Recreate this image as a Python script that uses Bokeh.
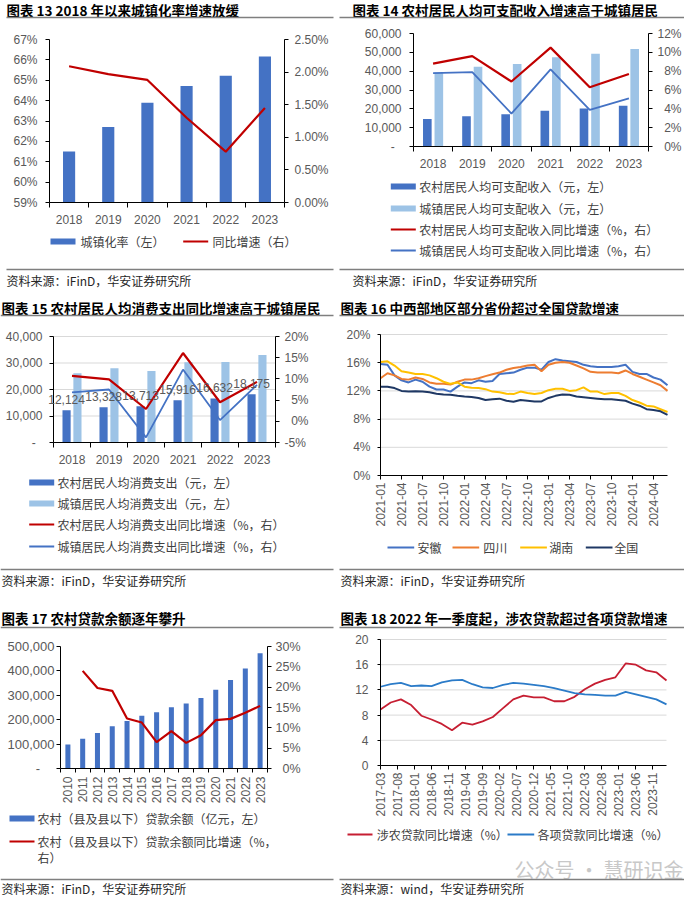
import math
from bokeh.plotting import figure
from bokeh.models import (Range1d, LinearAxis, FixedTicker, Label, BoxAnnotation,
                          LabelSet, ColumnDataSource)
from bokeh.layouts import column, row
from bokeh.core.properties import value
from bokeh.embed import file_html
from bokeh.resources import INLINE

CJK = "Noto Sans CJK SC"
LAT = "Liberation Sans"
FS = "\u2007"  # figure space, to right-align right-axis labels

C_BAR = "#4472C4"
C_LIGHT = "#9DC3E6"
C_RED = "#C00000"
C_ORANGE = "#ED7D31"
C_YELLOW = "#FFC000"
C_NAVY = "#1F3864"
C_RED18 = "#C61E32"
C_BLUE18 = "#2B7BC8"
C_RULE = "#7F7F7F"

# ---------------- DATA ----------------
# 图表13
years_13 = ["2018", "2019", "2020", "2021", "2022", "2023"]
urbanization_rate = [61.50, 62.71, 63.89, 64.72, 65.22, 66.16]
urbanization_yoy = [2.09, 1.97, 1.88, 1.30, 0.78, 1.45]
ticks_13_left = [59, 60, 61, 62, 63, 64, 65, 66, 67]
labels_13_left = ["59%", "60%", "61%", "62%", "63%", "64%", "65%", "66%", "67%"]
ticks_13_right = [0.0, 0.5, 1.0, 1.5, 2.0, 2.5]
labels_13_right = ["0.00%", "0.50%", "1.00%", "1.50%", "2.00%", "2.50%"]

# 图表14
years_14 = ["2018", "2019", "2020", "2021", "2022", "2023"]
rural_income = [14617, 16021, 17131, 18931, 20133, 21691]
urban_income = [39251, 42359, 43834, 47412, 49283, 51821]
rural_income_yoy = [8.8, 9.6, 6.9, 10.5, 6.3, 7.7]
urban_income_yoy = [7.8, 7.9, 3.5, 8.2, 3.9, 5.1]
ticks_14_left = [0, 10000, 20000, 30000, 40000, 50000, 60000]
labels_14_left = ["-" + FS, "10,000", "20,000", "30,000", "40,000", "50,000", "60,000"]
ticks_14_right = [0, 2, 4, 6, 8, 10, 12]
labels_14_right = [FS + "0%", FS + "2%", FS + "4%", FS + "6%", FS + "8%", "10%", "12%"]

# 图表15
years_15 = ["2018", "2019", "2020", "2021", "2022", "2023"]
rural_cons = [12124, 13328, 13713, 15916, 16632, 18175]
urban_cons = [26112, 28063, 27007, 30307, 30391, 32994]
rural_cons_yoy = [10.7, 9.9, 2.9, 16.1, 4.5, 9.3]
urban_cons_yoy = [6.8, 7.5, -3.8, 12.2, 0.3, 8.6]
rural_cons_labels = ["12,124", "13,328", "13,713", "15,916", "16,632", "18,175"]
ticks_15_left = [0, 10000, 20000, 30000, 40000]
labels_15_left = ["-" + FS, "10,000", "20,000", "30,000", "40,000"]
ticks_15_right = [-5, 0, 5, 10, 15, 20]
labels_15_right = ["-5%", FS + "0%", FS + "5%", "10%", "15%", "20%"]

# 图表16
months_16 = ["2021-01", "2021-02", "2021-03", "2021-04", "2021-05", "2021-06",
             "2021-07", "2021-08", "2021-09", "2021-10", "2021-11", "2021-12",
             "2022-01", "2022-02", "2022-03", "2022-04", "2022-05", "2022-06",
             "2022-07", "2022-08", "2022-09", "2022-10", "2022-11", "2022-12",
             "2023-01", "2023-02", "2023-03", "2023-04", "2023-05", "2023-06",
             "2023-07", "2023-08", "2023-09", "2023-10", "2023-11", "2023-12",
             "2024-01", "2024-02", "2024-03", "2024-04", "2024-05", "2024-06"]
anhui = [15.8, 15.7, 14.2, 13.5, 13.2, 13.6, 13.3, 12.6, 12.2, 12.2, 11.9, 12.6,
         13.2, 13.1, 13.5, 13.3, 13.4, 14.4, 14.5, 14.6, 15.0, 15.3, 15.3, 15.0,
         16.1, 16.5, 16.3, 16.2, 16.1, 15.7, 15.5, 15.4, 15.4, 15.4, 15.5, 15.7,
         14.7, 14.4, 14.4, 13.9, 13.6, 12.8]
sichuan = [13.8, 14.5, 14.2, 13.7, 13.6, 13.9, 13.7, 13.2, 13.0, 13.0, 12.9, 13.3,
           13.6, 13.6, 13.8, 14.1, 14.35, 14.6, 15.0, 15.25, 15.4, 15.6, 15.7, 14.8,
           15.7, 16.0, 16.1, 16.0, 15.6, 15.2, 14.7, 14.6, 14.6, 14.6, 14.5, 14.9,
           14.4, 14.0, 13.6, 13.2, 12.8, 12.0]
hunan = [16.1, 16.2, 15.6, 14.8, 14.6, 14.4, 14.4, 14.2, 13.8, 13.3, 13.0, 13.2,
         12.6, 12.45, 12.4, 12.25, 11.9, 11.8, 11.6, 11.55, 11.9, 11.7, 11.55, 11.7,
         12.1, 12.3, 12.3, 12.0, 12.1, 12.5, 11.9, 11.9, 11.55, 11.7, 11.7, 11.3,
         10.7, 10.35, 9.9, 9.8, 9.4, 9.0]
national = [12.6, 12.6, 12.4, 12.0, 11.9, 11.95, 11.9, 11.8, 11.6, 11.5, 11.45, 11.3,
            11.2, 11.15, 11.0, 10.7, 10.8, 10.9, 10.6, 10.45, 10.7, 10.6, 10.5, 10.5,
            11.0, 11.3, 11.5, 11.45, 11.2, 11.1, 11.0, 10.9, 10.8, 10.8, 10.7, 10.6,
            10.2, 9.9, 9.4, 9.3, 9.1, 8.6]
ticks_16_y = [0, 4, 8, 12, 16, 20]
labels_16_y = ["0%", "4%", "8%", "12%", "16%", "20%"]
ticks_16_x = [0, 3, 6, 9, 12, 15, 18, 21, 24, 27, 30, 33, 36, 39]
labels_16_x = ["2021-01", "2021-04", "2021-07", "2021-10", "2022-01", "2022-04", "2022-07",
               "2022-10", "2023-01", "2023-04", "2023-07", "2023-10", "2024-01", "2024-04"]

# 图表17
years_17 = ["2010", "2011", "2012", "2013", "2014", "2015", "2016",
            "2017", "2018", "2019", "2020", "2021", "2022", "2023"]
rural_loans = [98000, 121500, 145400, 172900, 194400, 216100, 230100,
               251400, 266400, 288800, 322700, 362300, 409600, 472000]
rural_loans_yoy = [float("nan"), 24.0, 19.8, 19.1, 12.3, 11.3, 6.5,
                   9.2, 6.3, 8.2, 11.9, 12.2, 13.7, 15.4]
ticks_17_left = [0, 100000, 200000, 300000, 400000, 500000]
labels_17_left = ["-" + FS + FS, "100,000", "200,000", "300,000", "400,000", "500,000"]
ticks_17_right = [0, 5, 10, 15, 20, 25, 30]
labels_17_right = [FS + "0%", FS + "5%", "10%", "15%", "20%", "25%", "30%"]

# 图表18
quarters_18 = ["2017-03", "2017-06", "2017-09", "2017-12", "2018-03", "2018-06", "2018-09",
               "2018-12", "2019-03", "2019-06", "2019-09", "2019-12", "2020-03", "2020-06",
               "2020-09", "2020-12", "2021-03", "2021-06", "2021-09", "2021-12", "2022-03",
               "2022-06", "2022-09", "2022-12", "2023-03", "2023-06", "2023-09", "2023-12",
               "2024-03"]
agri_loan_yoy = [8.9, 10.0, 10.5, 9.6, 7.9, 7.3, 6.6, 5.6, 6.8, 6.5, 7.0, 7.7, 9.1, 10.5,
                 11.1, 10.8, 10.8, 10.2, 10.2, 10.9, 12.1, 13.0, 13.6, 14.0, 16.2, 16.0,
                 15.1, 14.8, 13.5]
total_loan_yoy = [12.5, 12.9, 13.1, 12.6, 12.7, 12.6, 13.2, 13.5, 13.6, 12.9, 12.4, 12.3,
                  12.8, 13.1, 13.0, 12.8, 12.6, 12.3, 11.9, 11.5, 11.3, 11.2, 11.1, 11.1,
                  11.7, 11.3, 10.9, 10.5, 9.7]
ticks_18_y = [0, 4, 8, 12, 16, 20]
labels_18_y = ["0", "4", "8", "12", "16", "20"]
labels_18_x = ["2017-03", "2017-08", "2018-01", "2018-06", "2018-11", "2019-04", "2019-09",
               "2020-02", "2020-07", "2020-12", "2021-05", "2021-10", "2022-03", "2022-08",
               "2023-01", "2023-06", "2023-11"]


def month_index(s, base=(2017, 3)):
    y, m = s.split("-")
    return (int(y) - base[0]) * 12 + int(m) - base[1]


# ---------------- HELPERS ----------------
# Every figure's frame fills its whole canvas; the plot area is placed inside it
# by choosing the ranges, and the axes are drawn at fixed locations.
def make_fig(W, H, pl, pr, pt, pb, xa, xb, ya, yb):
    sx = (pr - pl) / (xb - xa)
    sy = (pb - pt) / (yb - ya)
    xr = Range1d(xa - pl / sx, xb + (W - pr) / sx)
    yr = Range1d(ya - (H - pb) / sy, yb + pt / sy)
    p = figure(width=W, height=H, x_range=xr, y_range=yr, title=None,
               output_backend="svg", toolbar_location=None, min_border=0)
    p.min_border_left = 0
    p.min_border_right = 0
    p.min_border_top = 0
    p.min_border_bottom = 0
    p.outline_line_color = None
    p.xgrid.visible = False
    p.ygrid.visible = False
    p.background_fill_color = "white"
    p.border_fill_color = "white"
    p._g = dict(W=W, H=H, pt=pt, pb=pb, xa=xa, xb=xb, ya=ya, yb=yb)
    xax = p.xaxis[0]
    xax.fixed_location = ya
    xax.bounds = (xa, xb)
    yax = p.yaxis[0]
    yax.fixed_location = xa
    yax.bounds = (ya, yb)
    return p


def style_axis(ax, tick_out=4, standoff=6, size="12px"):
    ax.axis_line_color = "black"
    ax.axis_line_width = 1
    ax.major_tick_line_color = "black"
    ax.major_tick_in = 0
    ax.major_tick_out = tick_out
    ax.minor_tick_line_color = None
    ax.major_label_text_font = LAT
    ax.major_label_text_font_size = size
    ax.major_label_text_color = "#595959"
    ax.major_label_standoff = standoff


def cat_xaxis(p, labels, standoff=6, orientation=None, minor_out=5):
    n = len(labels)
    ax = p.xaxis[0]
    ax.ticker = FixedTicker(ticks=list(range(n)),
                            minor_ticks=[i - 0.5 for i in range(n + 1)])
    ax.major_label_overrides = {i: labels[i] for i in range(n)}
    style_axis(ax, tick_out=0, standoff=standoff)
    ax.major_tick_line_color = None
    ax.minor_tick_line_color = "black"
    ax.minor_tick_in = 0
    ax.minor_tick_out = minor_out
    if orientation is not None:
        ax.major_label_orientation = orientation


def left_axis(p, ticks, labels, tick_out=4, standoff=6, size="12px"):
    ax = p.yaxis[0]
    ax.ticker = FixedTicker(ticks=ticks)
    ax.major_label_overrides = {k: v for k, v in zip(ticks, labels)}
    style_axis(ax, tick_out=tick_out, standoff=standoff, size=size)


def hgrid(p, ticks):
    g = p._g
    ys = [t for t in ticks if t != g["ya"]]
    p.segment(x0=[g["xa"]] * len(ys), x1=[g["xb"]] * len(ys), y0=ys, y1=ys,
              line_color="#D9D9D9", line_width=1)


def right_axis(p, ra, rb, ticks, labels, tick_out=4, standoff=6, size="12px"):
    g = p._g
    sr = (g["pb"] - g["pt"]) / (rb - ra)
    p.extra_y_ranges = {"r": Range1d(ra - (g["H"] - g["pb"]) / sr, rb + g["pt"] / sr)}
    ax = LinearAxis(y_range_name="r", fixed_location=g["xb"], bounds=(ra, rb),
                    ticker=FixedTicker(ticks=ticks),
                    major_label_overrides={k: v for k, v in zip(ticks, labels)})
    style_axis(ax, tick_out=tick_out, standoff=standoff, size=size)
    p.add_layout(ax, "right")


def txt(p, x, y, s, size="12px", font=CJK, color="#404040", style="normal", align="left"):
    H = p._g["H"]
    p.add_layout(Label(x=x, y=H - y, x_units="screen", y_units="screen", text=s,
                       text_font=font, text_font_size=size, text_color=color,
                       text_font_style=style, text_align=align, text_baseline="middle"))


def rect(p, x0, x1, y0, y1, color):
    H = p._g["H"]
    p.add_layout(BoxAnnotation(left=x0, right=x1, top=H - y0, bottom=H - y1,
                               left_units="screen", right_units="screen",
                               top_units="screen", bottom_units="screen",
                               fill_color=color, fill_alpha=1.0, line_alpha=0.0))


def title(p, x, y, s):
    txt(p, x, y, s, size="13.5px", color="#000000", style="bold")


def hrule(p, x0, x1, y):
    rect(p, x0, x1, y - 0.75, y + 0.75, C_RULE)


def swatch_bar(p, x, y, color):
    rect(p, x, x + 25, y - 3, y + 3, color)


def swatch_line(p, x, y, color, w=25):
    rect(p, x, x + w, y - 1, y + 1, color)


# ---------------- 图表13 ----------------
p13 = make_fig(337, 292, 49, 284, 39, 202, -0.5, 5.5, 59, 67)
x13 = list(range(len(years_13)))
right_axis(p13, 0, 2.5, ticks_13_right, labels_13_right, standoff=6)
p13.vbar(x=x13, top=urbanization_rate, bottom=59, width=0.31, fill_color=C_BAR, line_color=None)
p13.line(x13, urbanization_yoy, y_range_name="r", line_color=C_RED, line_width=2.2)
cat_xaxis(p13, years_13, standoff=7)
left_axis(p13, ticks_13_left, labels_13_left, standoff=8)
title(p13, 6, 9.5, "图表 13 2018 年以来城镇化率增速放缓")
hrule(p13, 6, 333, 17)
swatch_bar(p13, 50, 241, C_BAR)
txt(p13, 80, 241, "城镇化率（左）")
swatch_line(p13, 182.7, 241, C_RED)
txt(p13, 212, 241, "同比增速（右）")
hrule(p13, 6, 333, 269)
txt(p13, 6, 280, "资料来源：iFinD，华安证券研究所", color="#262626")

# ---------------- 图表14 ----------------
p14 = make_fig(347, 292, 76, 311, 33, 146, -0.5, 5.5, 0, 60000)
x14 = list(range(len(years_14)))
right_axis(p14, 0, 12, ticks_14_right, labels_14_right, standoff=5)
p14.vbar(x=[v - 0.147 for v in x14], top=rural_income, width=0.22, fill_color=C_BAR, line_color=None)
p14.vbar(x=[v + 0.147 for v in x14], top=urban_income, width=0.22, fill_color=C_LIGHT, line_color=None)
p14.line(x14, rural_income_yoy, y_range_name="r", line_color=C_RED, line_width=2.2)
p14.line(x14, urban_income_yoy, y_range_name="r", line_color=C_BAR, line_width=1.8)
cat_xaxis(p14, years_14, standoff=7)
left_axis(p14, ticks_14_left, labels_14_left, standoff=8)
title(p14, 15, 9.5, "图表 14 农村居民人均可支配收入增速高于城镇居民")
hrule(p14, 2, 347, 17)
swatch_bar(p14, 53.3, 186, C_BAR)
txt(p14, 81.7, 186, "农村居民人均可支配收入（元，左）")
swatch_bar(p14, 53.3, 208, C_LIGHT)
txt(p14, 81.7, 208, "城镇居民人均可支配收入（元，左）")
swatch_line(p14, 53.3, 229, C_RED)
txt(p14, 81.7, 229, "农村居民人均可支配收入同比增速（%，右）")
swatch_line(p14, 53.3, 250, C_BAR)
txt(p14, 81.7, 250, "城镇居民人均可支配收入同比增速（%，右）")
hrule(p14, 2, 347, 269)
txt(p14, 15, 280, "资料来源：iFinD，华安证券研究所", color="#262626")

# ---------------- 图表15 ----------------
p15 = make_fig(337, 310, 53, 275, 44, 150, -0.5, 5.5, 0, 40000)
x15 = list(range(len(years_15)))
right_axis(p15, -5, 20, ticks_15_right, labels_15_right, standoff=5)
hgrid(p15, ticks_15_left)
p15.vbar(x=[v - 0.147 for v in x15], top=rural_cons, width=0.22, fill_color=C_BAR, line_color=None)
p15.vbar(x=[v + 0.147 for v in x15], top=urban_cons, width=0.22, fill_color=C_LIGHT, line_color=None)
src15 = ColumnDataSource(dict(x=[v - 0.147 for v in x15], y=rural_cons, t=rural_cons_labels))
p15.add_layout(LabelSet(x="x", y="y", text="t", source=src15, y_offset=11,
                        text_align="center", text_baseline="middle",
                        text_font=value(LAT), text_font_size="12px", text_color="#595959"))
p15.line(x15, rural_cons_yoy, y_range_name="r", line_color=C_RED, line_width=2.2)
p15.line(x15, urban_cons_yoy, y_range_name="r", line_color=C_BAR, line_width=1.8)
cat_xaxis(p15, years_15, standoff=7)
left_axis(p15, ticks_15_left, labels_15_left, standoff=7)
title(p15, 1, 15, "图表 15 农村居民人均消费支出同比增速高于城镇居民")
hrule(p15, 0, 333, 23)
swatch_bar(p15, 28.7, 190, C_BAR)
txt(p15, 57, 190, "农村居民人均消费支出（元，左）")
swatch_bar(p15, 28.7, 211, C_LIGHT)
txt(p15, 57, 211, "城镇居民人均消费支出（元，左）")
swatch_line(p15, 28.7, 232, C_RED)
txt(p15, 57, 232, "农村居民人均消费支出同比增速（%，右）")
swatch_line(p15, 28.7, 254, C_BAR)
txt(p15, 57, 254, "城镇居民人均消费支出同比增速（%，右）")
hrule(p15, 0, 333, 277)
txt(p15, 1, 288, "资料来源：iFinD，华安证券研究所", color="#262626")

# ---------------- 图表16 ----------------
p16 = make_fig(347, 310, 43, 330, 42, 183, 0, len(months_16) - 1, 0, 20)
x16 = list(range(len(months_16)))
hgrid(p16, ticks_16_y)
left_axis(p16, ticks_16_y, labels_16_y, tick_out=3, standoff=7)
p16.line(x16, anhui, line_color=C_BAR, line_width=2)
p16.line(x16, sichuan, line_color=C_ORANGE, line_width=2)
p16.line(x16, hunan, line_color=C_YELLOW, line_width=2)
p16.line(x16, national, line_color=C_NAVY, line_width=2)
ax16 = p16.xaxis[0]
ax16.ticker = FixedTicker(ticks=ticks_16_x)
ax16.major_label_overrides = {k: v for k, v in zip(ticks_16_x, labels_16_x)}
style_axis(ax16, tick_out=4, standoff=3)
ax16.major_label_orientation = math.pi / 2
title(p16, 3, 15, "图表 16 中西部地区部分省份超过全国贷款增速")
hrule(p16, 2, 347, 23)
for lx, tx, name, col in [(50, 80, "安徽", C_BAR), (115, 145.7, "四川", C_ORANGE),
                          (182.7, 211.7, "湖南", C_YELLOW), (248.3, 276.7, "全国", C_NAVY)]:
    swatch_line(p16, lx, 255, col, w=26.7)
    txt(p16, tx, 255, name)
hrule(p16, 2, 347, 277)
txt(p16, 3, 288, "资料来源：iFinD，华安证券研究所", color="#262626")

# ---------------- 图表17 ----------------
p17 = make_fig(337, 295, 60, 267, 44, 166, -0.5, 13.5, 0, 500000)
x17 = list(range(len(years_17)))
right_axis(p17, 0, 30, ticks_17_right, labels_17_right, standoff=4, size="12.5px")
p17.vbar(x=x17, top=rural_loans, width=0.34, fill_color=C_BAR, line_color=None)
p17.line(x17, rural_loans_yoy, y_range_name="r", line_color=C_RED, line_width=2.2)
cat_xaxis(p17, years_17, standoff=4, orientation=math.pi / 2, minor_out=4)
left_axis(p17, ticks_17_left, labels_17_left, tick_out=4, standoff=2, size="13px")
title(p17, 1, 15, "图表 17 农村贷款余额逐年攀升")
hrule(p17, 0, 333, 25)
swatch_bar(p17, 9, 216, C_BAR)
txt(p17, 37, 216, "农村（县及县以下）贷款余额（亿元，左）")
swatch_line(p17, 9, 239, C_RED)
txt(p17, 37, 239, "农村（县及县以下）贷款余额同比增速（%，")
txt(p17, 37, 255, "右）")
hrule(p17, 0, 333, 277)
txt(p17, 1, 286, "资料来源：iFinD，华安证券研究所", color="#262626")

# ---------------- 图表18 ----------------
x18 = [month_index(q) for q in quarters_18]
p18 = make_fig(347, 295, 43, 329, 37, 163, 0, month_index(quarters_18[-1]), 0, 20)
hgrid(p18, ticks_18_y)
left_axis(p18, ticks_18_y, labels_18_y, tick_out=3, standoff=9)
p18.line(x18, agri_loan_yoy, line_color=C_RED18, line_width=1.8)
p18.line(x18, total_loan_yoy, line_color=C_BLUE18, line_width=1.8)
ax18 = p18.xaxis[0]
ticks_18_x = [month_index(s) for s in labels_18_x]
ax18.ticker = FixedTicker(ticks=ticks_18_x)
ax18.major_label_overrides = {k: v for k, v in zip(ticks_18_x, labels_18_x)}
style_axis(ax18, tick_out=4, standoff=3)
ax18.major_label_orientation = math.pi / 2
title(p18, 3, 15, "图表 18 2022 年一季度起，涉农贷款超过各项贷款增速")
hrule(p18, 2, 347, 25)
swatch_line(p18, 10, 232, C_RED18)
txt(p18, 39.3, 232, "涉农贷款同比增速（%）")
swatch_line(p18, 170, 232, C_BLUE18, w=26.7)
txt(p18, 200, 232, "各项贷款同比增速（%）")
txt(p18, 177, 267, "公众号 · 慧研识金", size="20px", color="#C8C8C8")
hrule(p18, 2, 347, 277)
txt(p18, 3, 286, "资料来源：wind，华安证券研究所", color="#262626")

layout = column(row(p13, p14), row(p15, p16), row(p17, p18))
open("out.html", "w").write(file_html(layout, INLINE))
